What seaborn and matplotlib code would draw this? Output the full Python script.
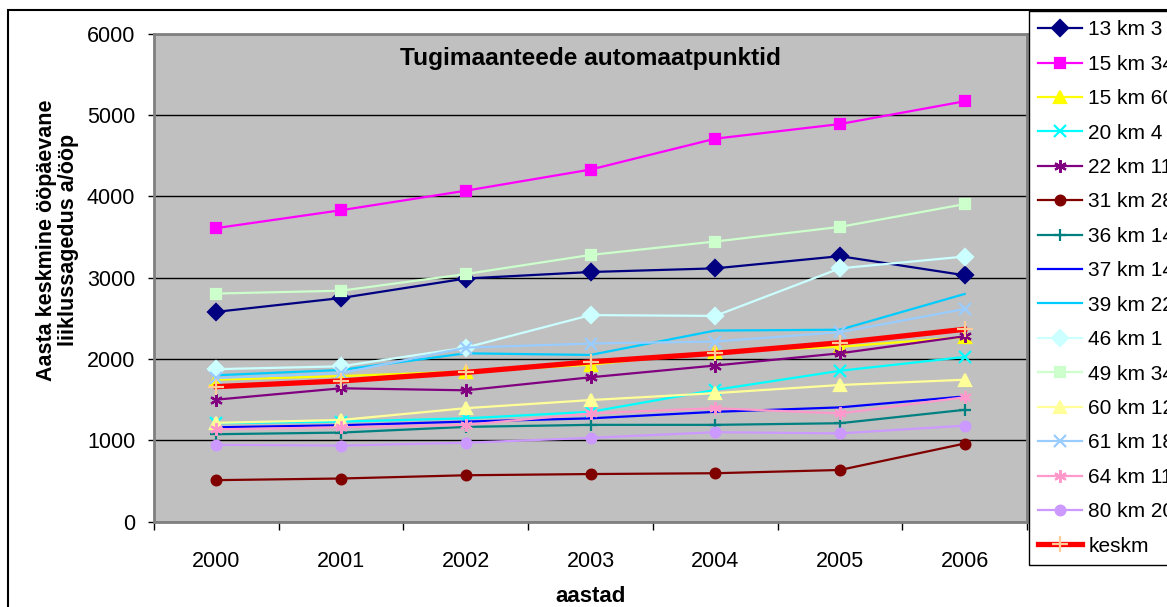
import numpy as np
import pandas as pd
import seaborn as sns
import matplotlib.pyplot as plt
from matplotlib.patches import Rectangle

plt.rcParams['font.family'] = ['Liberation Sans', 'DejaVu Sans']

years = [2000, 2001, 2002, 2003, 2004, 2005, 2006]

names = ["13 km 3", "15 km 34", "15 km 60", "20 km 4", "22 km 11", "31 km 28",
         "36 km 14", "37 km 14", "39 km 22", "46 km 1", "49 km 34", "60 km 12",
         "61 km 18", "64 km 11", "80 km 20", "keskm"]

s13_3 = [2580, 2750, 2990, 3070, 3115, 3265, 3030]
s15_34 = [3610, 3830, 4070, 4330, 4710, 4890, 5170]
s15_60 = [1745, 1790, 1845, 1930, 2090, 2150, 2270]
s20_4 = [1210, 1230, 1270, 1350, 1620, 1855, 2025]
s22_11 = [1500, 1640, 1615, 1775, 1920, 2070, 2280]
s31_28 = [510, 530, 570, 585, 595, 635, 960]
s36_14 = [1075, 1095, 1165, 1190, 1190, 1210, 1375]
s37_14 = [1160, 1185, 1230, 1270, 1350, 1405, 1540]
s39_22 = [1800, 1865, 2070, 2050, 2350, 2360, 2800]
s46_1 = [1875, 1910, 2140, 2540, 2530, 3115, 3260]
s49_34 = [2805, 2840, 3045, 3280, 3445, 3625, 3905]
s60_12 = [1215, 1250, 1395, 1495, 1580, 1680, 1745]
s61_18 = [1765, 1825, 2140, 2190, 2215, 2330, 2615]
s64_11 = [1135, 1160, 1190, 1330, 1395, 1330, 1530]
s80_20 = [945, 935, 970, 1030, 1100, 1085, 1180]
keskm = [1660, 1730, 1835, 1965, 2070, 2200, 2365]

values = [s13_3, s15_34, s15_60, s20_4, s22_11, s31_28, s36_14, s37_14,
          s39_22, s46_1, s49_34, s60_12, s61_18, s64_11, s80_20, keskm]

rows = []
for name, vals in zip(names, values):
    for yr, v in zip(years, vals):
        rows.append({"serie": name, "aasta": yr, "value": v})
df = pd.DataFrame(rows)

# color, marker, marker size, line width, marker color
styles = {
    "13 km 3": ("#000080", "D", 8, 1.6, "#000080"),
    "15 km 34": ("#FF00FF", "s", 7, 1.6, "#FF00FF"),
    "15 km 60": ("#FFFF00", "^", 8, 1.6, "#FFFF00"),
    "20 km 4": ("#00FFFF", "x", 8, 1.6, "#00FFFF"),
    "22 km 11": ("#800080", (6, 2, 0), 9, 1.6, "#800080"),
    "31 km 28": ("#800000", "o", 7, 1.6, "#800000"),
    "36 km 14": ("#008080", "+", 9, 1.6, "#008080"),
    "37 km 14": ("#0000FF", None, 7, 1.6, "#0000FF"),
    "39 km 22": ("#00CCFF", None, 7, 1.6, "#00CCFF"),
    "46 km 1": ("#CCFFFF", "D", 8, 1.6, "#CCFFFF"),
    "49 km 34": ("#CCFFCC", "s", 7, 1.6, "#CCFFCC"),
    "60 km 12": ("#FFFF99", "^", 8, 1.6, "#FFFF99"),
    "61 km 18": ("#99CCFF", "x", 8, 1.6, "#99CCFF"),
    "64 km 11": ("#FF99CC", (6, 2, 0), 9, 1.6, "#FF99CC"),
    "80 km 20": ("#CC99FF", "o", 7, 1.6, "#CC99FF"),
    "keskm": ("#FF0000", "+", 12, 3.8, "#FFCC99"),
}

fig = plt.figure(figsize=(11.67, 6.07), dpi=100)
ax = fig.add_axes([154 / 1167, 1 - 521.6 / 607, 873 / 1167, 487.8 / 607])
ax.set_facecolor("#C0C0C0")

for name in names:
    color, marker, ms, lw, mcolor = styles[name]
    sns.lineplot(data=df[df["serie"] == name], x="aasta", y="value", ax=ax,
                 label=name, color=color, marker=marker, markersize=ms,
                 linewidth=lw, markerfacecolor=mcolor, markeredgecolor=mcolor,
                 markeredgewidth=1.6, errorbar=None)

ax.set_xlim(1999.5, 2006.5)
ax.set_ylim(0, 6000)
ax.set_xticks(years)
ax.set_xticklabels([str(y) for y in years])
ax.set_xticks(np.arange(1999.5, 2007, 1), minor=True)
ax.tick_params(axis="x", which="major", length=0, pad=21, labelsize=15.5)
ax.tick_params(axis="x", which="minor", length=6, width=1, color="black")
ax.set_yticks(range(0, 7000, 1000))
ax.tick_params(axis="y", length=4.5, width=1, pad=9, labelsize=15.5)
ax.yaxis.grid(True, color="black", linewidth=1)
ax.set_axisbelow(True)
for sp in ax.spines.values():
    sp.set_color("#808080")
    sp.set_linewidth(2)

ax.text(0.5, 0.95, "Tugimaanteede automaatpunktid", transform=ax.transAxes,
        ha="center", va="center", fontsize=17.6, fontweight="bold")

ax.set_ylabel("Aasta keskmine ööpäevane\nliiklussagedus a/ööp", fontsize=15.5,
              fontweight="bold", linespacing=1.05)
ax.yaxis.set_label_coords(-0.086, 0.577)
ax.set_xlabel("aastad", fontsize=16, fontweight="bold")
ax.xaxis.set_label_coords(0.5, (521.6 - 597) / 487.8)
ax.xaxis.label.set_va("center")

leg = ax.legend(loc="upper left", bbox_to_anchor=(1029 / 1167, 1 - 11 / 607),
                bbox_transform=fig.transFigure, borderaxespad=0, fontsize=15,
                frameon=True, fancybox=False, framealpha=1, edgecolor="black",
                labelspacing=0.74, handlelength=2.1, handletextpad=0.3,
                borderpad=0.45)
leg.get_frame().set_linewidth(1.0)

fig.add_artist(Rectangle((8 / 1167, -0.05), 1.2, 1 - 10 / 607 + 0.05,
                         transform=fig.transFigure, fill=False,
                         edgecolor="black", linewidth=1.5))

fig.savefig("out.png", dpi=100)
